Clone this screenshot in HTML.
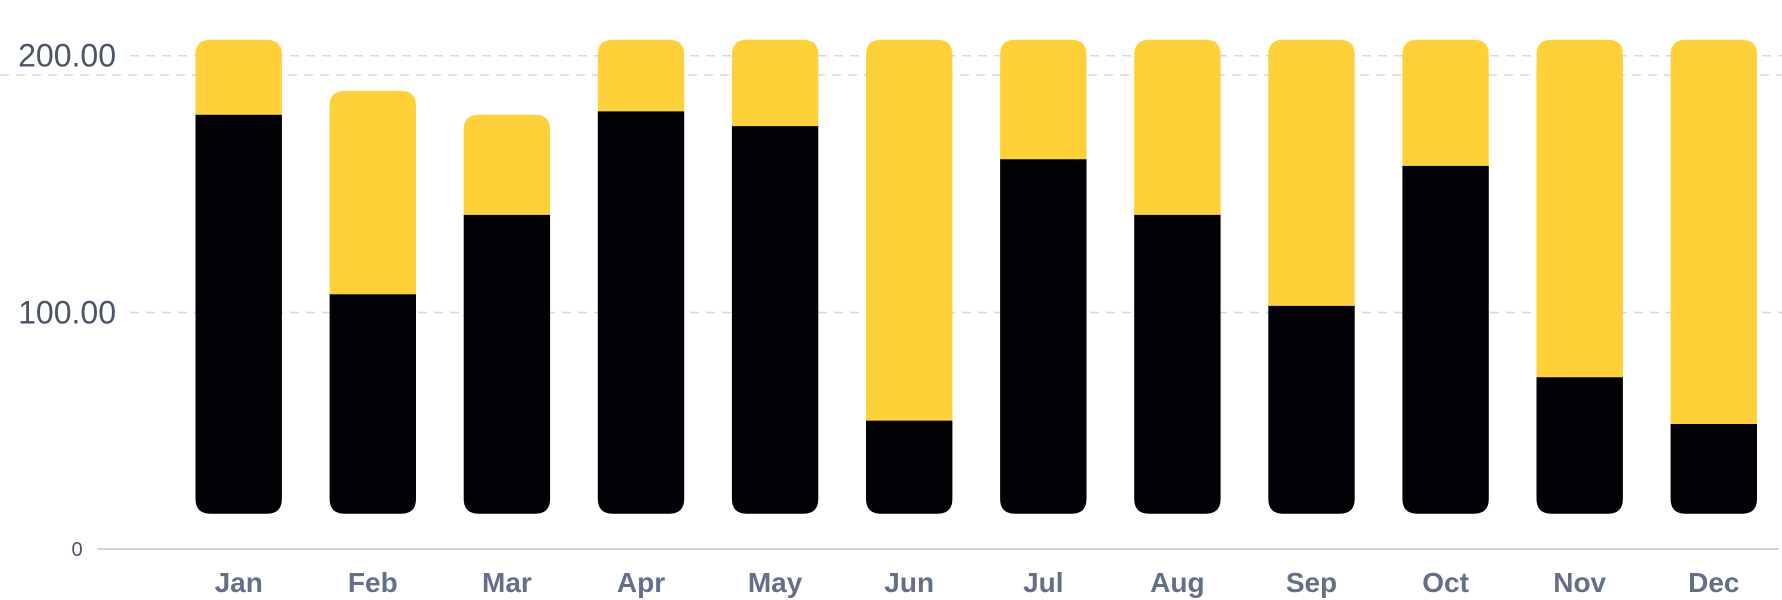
<!DOCTYPE html>
<html><head><meta charset="utf-8">
<style>
html,body{margin:0;padding:0;background:#fff;}
svg{display:block;}
text{font-family:"Liberation Sans",sans-serif;}
</style></head>
<body>
<svg id="chart" width="1782" height="600" viewBox="0 0 1782 600" xmlns="http://www.w3.org/2000/svg">
  <g id="grid"></g>
  <g id="yaxis"></g>
  <g id="bars"></g>
  <g id="xaxis"></g>
</svg>
<script>
const categories = ["Jan","Feb","Mar","Apr","May","Jun","Jul","Aug","Sep","Oct","Nov","Dec"];
const blackValues = [177.0,107.1,138.0,178.3,172.6,57.9,159.7,138.0,102.6,157.1,74.8,56.6];
const yellowValues = [29.2,79.2,39.0,27.9,33.6,148.3,46.5,68.2,103.6,49.1,131.4,149.6];
const yTicks = [100,200];
const yTickLabels = ["100.00","200.00"];

const NS = "http://www.w3.org/2000/svg";
function yScale(v){ return 569.3 - 2.568*v; }
function xScale(i){ return 195.5 + i*134.1; }
const barW = 86.4, baseY = 513.7, r = 15;
function mk(tag, attrs, parent){
  const el = document.createElementNS(NS, tag);
  for (const k in attrs) el.setAttribute(k, attrs[k]);
  parent.appendChild(el);
  return el;
}
const grid = document.getElementById('grid');
const yaxis = document.getElementById('yaxis');
const bars = document.getElementById('bars');
const xaxis = document.getElementById('xaxis');

yTicks.forEach((t,i)=>{
  const y = yScale(t);
  const ln = mk('line',{x1:130,x2:1782,y1:y,y2:y,stroke:'#d3d7e0','stroke-width':1.5,'stroke-dasharray':'9 7'},grid);
  
  
  const tx = mk('text',{x:116,y:y+11,'text-anchor':'end','font-size':32,fill:'#4a5568'},yaxis);
  tx.textContent = yTickLabels[i];
  
  
});
const extra = mk('line',{x1:0,x2:1782,y1:75,y2:75,stroke:'#d3d7e0','stroke-width':1.5,'stroke-dasharray':'9 7'},grid);



const zero = mk('text',{x:77,y:556,'text-anchor':'middle','font-size':20,fill:'#4a5568'},yaxis);
zero.textContent = '0';


const axis = mk('line',{x1:97,x2:1779,y1:549,y2:549,stroke:'#d0d5de','stroke-width':2},xaxis);



categories.forEach((c,i)=>{
  const x = xScale(i);
  const yb = yScale(blackValues[i]);
  const yt = yScale(blackValues[i]+yellowValues[i]);
  const py = mk('path',{d:`M${x},${yb} V${yt+r} Q${x},${yt} ${x+r},${yt} H${x+barW-r} Q${x+barW},${yt} ${x+barW},${yt+r} V${yb} Z`,fill:'#fdd137'},bars);
  
  
  const pb = mk('path',{d:`M${x},${yb} H${x+barW} V${baseY-r} Q${x+barW},${baseY} ${x+barW-r},${baseY} H${x+r} Q${x},${baseY} ${x},${baseY-r} Z`,fill:'#020206'},bars);
  
  
  const lb = mk('text',{x:x+barW/2,y:592,'text-anchor':'middle','font-size':28,'font-weight':'bold',fill:'#64708a'},xaxis);
  lb.textContent = c;
  
  
});
</script>
</body></html>
